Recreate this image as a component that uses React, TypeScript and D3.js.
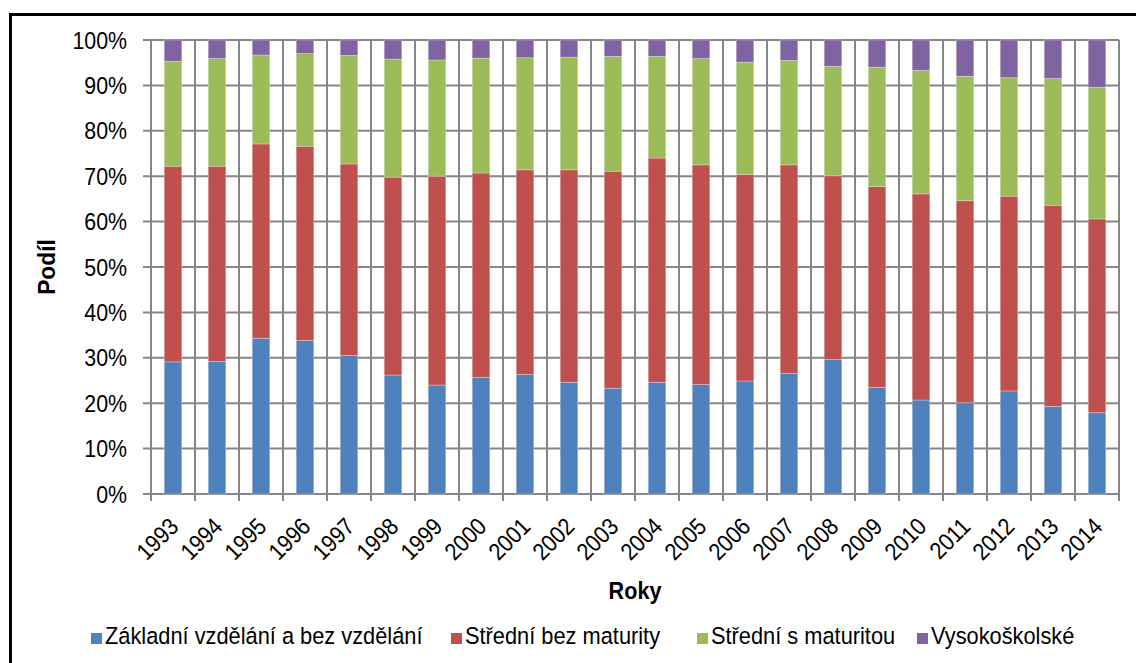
import React from "react";
import * as d3 from "d3";

const years = ["1993","1994","1995","1996","1997","1998","1999","2000","2001","2002","2003","2004","2005","2006","2007","2008","2009","2010","2011","2012","2013","2014"];
const zakladni = [29.1,29.2,34.3,33.8,30.5,26.2,24.0,25.7,26.3,24.6,23.3,24.6,24.1,24.9,26.6,29.6,23.5,20.7,20.1,22.7,19.3,17.9];
const stredniBez = [43.1,43.0,42.8,42.8,42.2,43.6,46.0,45.0,45.1,46.8,47.8,49.4,48.4,45.5,45.9,40.5,44.2,45.4,44.5,42.9,44.3,42.7];
const stredniS = [23.1,23.7,19.6,20.4,23.9,26.0,25.6,25.3,24.7,24.8,25.3,22.4,23.4,24.7,23.0,24.1,26.3,27.2,27.4,26.1,27.9,29.0];
const vysoko = [4.7,4.1,3.3,3.0,3.4,4.2,4.4,4.0,3.9,3.8,3.6,3.6,4.1,4.9,4.5,5.8,6.0,6.7,8.0,8.3,8.5,10.4];
const seriesNames = ["Základní vzdělání a bez vzdělání","Střední bez maturity","Střední s maturitou","Vysokoškolské"];
const seriesColors = ["#4F81BD","#C0504D","#9BBB59","#8064A2"];
const yTicks = [0,0.1,0.2,0.3,0.4,0.5,0.6,0.7,0.8,0.9,1];

const W = 1136, H = 663;
const plot = { left: 151, right: 1119, top: 40, bottom: 494 };
const legendX = [91, 451, 697, 917];
const font = "'Liberation Sans', Arial, sans-serif";
const gridColor = "#868686";
const SX = 0.89;

export default function App() {
  const keys = ["a","b","c","d"];
  const rows = years.map((y, i) => {
    const total = zakladni[i] + stredniBez[i] + stredniS[i] + vysoko[i];
    return { year: y, a: zakladni[i] / total, b: stredniBez[i] / total, c: stredniS[i] / total, d: vysoko[i] / total };
  });
  const stack = d3.stack<any>().keys(keys)(rows);
  const x = d3.scaleBand().domain(years).range([plot.left, plot.right]).paddingInner(0.6).paddingOuter(0.3);
  const y = d3.scaleLinear().domain([0, 1]).range([plot.bottom, plot.top]);
  const step = x.step();
  const edges = d3.range(years.length + 1).map(i => plot.left + i * step);

  return (
    <svg width={W} height={H} style={{ position: "absolute", left: 0, top: 0, background: "#fff" }} fontFamily={font}>
      <rect x={0} y={0} width={W} height={H} fill="#fff" />
      {yTicks.map(t => (
        <line key={"h" + t} x1={plot.left - 8} x2={plot.right} y1={y(t)} y2={y(t)} stroke={gridColor} strokeWidth={2} />
      ))}
      {edges.map((e, i) => (
        <line key={"v" + i} x1={e} x2={e} y1={plot.top} y2={plot.bottom + 7} stroke={gridColor} strokeWidth={2} />
      ))}
      {stack.map((s, si) => (
        <g key={si} fill={seriesColors[si]}>
          {s.map((d, i) => (
            <rect key={i} x={x(years[i])} width={x.bandwidth()} y={y(d[1])} height={y(d[0]) - y(d[1])}
              stroke="#ffffff" strokeOpacity={0.35} strokeWidth={0.8} />
          ))}
        </g>
      ))}
      {yTicks.map(t => (
        <text key={"yt" + t} transform={`translate(127,${y(t)}) scale(${SX},1)`} dy="0.36em" textAnchor="end" fontSize={24} fill="#000">
          {d3.format(".0%")(t)}
        </text>
      ))}
      {years.map(yr => {
        const cx = (x(yr) as number) + x.bandwidth() / 2;
        return (
          <text key={"xt" + yr} transform={`translate(${cx + 7},${plot.bottom + 34}) rotate(-45) scale(${SX},1)`} textAnchor="end" fontSize={24} fill="#000">
            {yr}
          </text>
        );
      })}
      <text transform={`translate(55,${(plot.top + plot.bottom) / 2}) rotate(-90) scale(0.95,1)`} textAnchor="middle" fontSize={24} fontWeight="bold">Podíl</text>
      <text transform={`translate(${(plot.left + plot.right) / 2},599) scale(0.9,1)`} textAnchor="middle" fontSize={24} fontWeight="bold">Roky</text>
      {seriesNames.map((n, i) => (
        <g key={"lg" + i}>
          <rect x={legendX[i]} y={633} width={11} height={11} fill={seriesColors[i]} />
          <text transform={`translate(${legendX[i] + 14},644) scale(${SX},1)`} fontSize={24.5} fill="#000">{n}</text>
        </g>
      ))}
      <rect x={10.5} y={14.5} width={1140} height={700} fill="none" stroke="#000" strokeWidth={3} />
    </svg>
  );
}
